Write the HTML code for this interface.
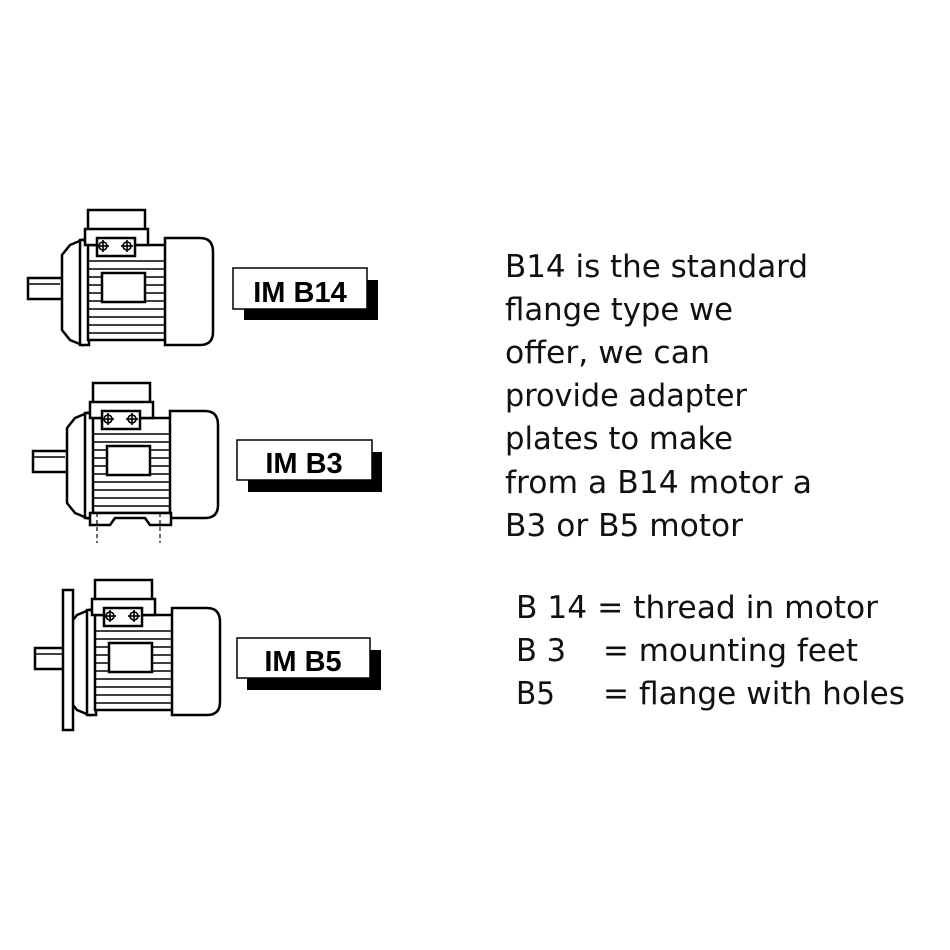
<!DOCTYPE html>
<html><head><meta charset="utf-8"><style>
html,body{margin:0;padding:0;background:#fff;width:950px;height:950px;overflow:hidden}
svg{display:block}
</style></head><body>
<svg width="950" height="950" viewBox="0 0 950 950" xmlns="http://www.w3.org/2000/svg">
<defs>
<g id="motor" fill="#fff" stroke="#000" stroke-width="2.5">
  <rect x="28" y="278" width="38" height="21"/>
  <line x1="28" y1="284" x2="60" y2="284" stroke-width="1.5"/>
  <path d="M62 255 L70 245 L82 240 L82 345 L70 340 L62 330 Z"/>
  <rect x="80" y="240" width="9" height="105"/>
  <rect x="88" y="245" width="78" height="95"/>
  <rect x="88" y="210" width="57" height="20"/>
  <rect x="85" y="229" width="63" height="16"/>
  <rect x="97" y="238" width="38" height="18"/>
  <g stroke-width="1.6">
    <circle cx="103" cy="246" r="4"/><line x1="97" y1="246" x2="109" y2="246"/><line x1="103" y1="240" x2="103" y2="252"/>
    <circle cx="127" cy="246" r="4"/><line x1="121" y1="246" x2="133" y2="246"/><line x1="127" y1="240" x2="127" y2="252"/>
    <line x1="89" y1="261" x2="165" y2="261"/><line x1="89" y1="269" x2="165" y2="269"/>
    <line x1="89" y1="277" x2="165" y2="277"/><line x1="89" y1="285" x2="165" y2="285"/>
    <line x1="89" y1="293" x2="165" y2="293"/><line x1="89" y1="301" x2="165" y2="301"/>
    <line x1="89" y1="309" x2="165" y2="309"/><line x1="89" y1="317" x2="165" y2="317"/>
    <line x1="89" y1="325" x2="165" y2="325"/><line x1="89" y1="333" x2="165" y2="333"/>
  </g>
  <rect x="102" y="273" width="43" height="29"/>
  <path d="M165 238 L200 238 Q213 238 213 252 L213 332 Q213 345 200 345 L165 345 Z"/>
</g>
</defs>

<use href="#motor"/>
<g transform="translate(5,173)">
  <use href="#motor"/>
  <path d="M85 340 L166 340 L166 352 L145 352 L140 345 L110 345 L105 352 L85 352 Z" fill="#fff" stroke="#000" stroke-width="2.5"/>
  <line x1="92" y1="340" x2="92" y2="370" stroke="#000" stroke-width="1.2" stroke-dasharray="4,3"/>
  <line x1="155" y1="340" x2="155" y2="370" stroke="#000" stroke-width="1.2" stroke-dasharray="4,3"/>
</g>
<g transform="translate(7,370)">
  <use href="#motor"/>
  <rect x="56" y="220" width="10" height="140" fill="#fff" stroke="#000" stroke-width="2.5"/>
</g>

<g>
  <rect x="244" y="280" width="134" height="40" fill="#000"/>
  <rect x="233" y="268" width="134" height="41" fill="#fff" stroke="#000" stroke-width="1.5"/>
  <text x="300" y="302" font-family="Liberation Sans, sans-serif" font-weight="bold" font-size="29" text-anchor="middle">IM B14</text>
  <rect x="248" y="452" width="134" height="40" fill="#000"/>
  <rect x="237" y="440" width="135" height="40" fill="#fff" stroke="#000" stroke-width="1.5"/>
  <text x="304" y="473" font-family="Liberation Sans, sans-serif" font-weight="bold" font-size="29" text-anchor="middle">IM B3</text>
  <rect x="247" y="650" width="134" height="40" fill="#000"/>
  <rect x="237" y="638" width="133" height="40" fill="#fff" stroke="#000" stroke-width="1.5"/>
  <text x="303" y="671" font-family="Liberation Sans, sans-serif" font-weight="bold" font-size="29" text-anchor="middle">IM B5</text>
</g>

<g font-family="DejaVu Sans, sans-serif" font-size="31" fill="#111">
  <text x="505" y="277" textLength="303" lengthAdjust="spacingAndGlyphs">B14 is the standard</text>
  <text x="505" y="320" textLength="228" lengthAdjust="spacingAndGlyphs">flange type we</text>
  <text x="505" y="363" textLength="205" lengthAdjust="spacingAndGlyphs">offer, we can</text>
  <text x="505" y="406" textLength="242" lengthAdjust="spacingAndGlyphs">provide adapter</text>
  <text x="505" y="449" textLength="228" lengthAdjust="spacingAndGlyphs">plates to make</text>
  <text x="505" y="493" textLength="307" lengthAdjust="spacingAndGlyphs">from a B14 motor a</text>
  <text x="505" y="536" textLength="238" lengthAdjust="spacingAndGlyphs">B3 or B5 motor</text>
  <text x="516" y="618" textLength="362" lengthAdjust="spacingAndGlyphs">B 14 = thread in motor</text>
  <text x="516" y="661" textLength="50" lengthAdjust="spacingAndGlyphs">B 3</text>
  <text x="603" y="661" textLength="255" lengthAdjust="spacingAndGlyphs">= mounting feet</text>
  <text x="516" y="704" textLength="39" lengthAdjust="spacingAndGlyphs">B5</text>
  <text x="603" y="704" textLength="302" lengthAdjust="spacingAndGlyphs">= flange with holes</text>
</g>
</svg>
</body></html>
